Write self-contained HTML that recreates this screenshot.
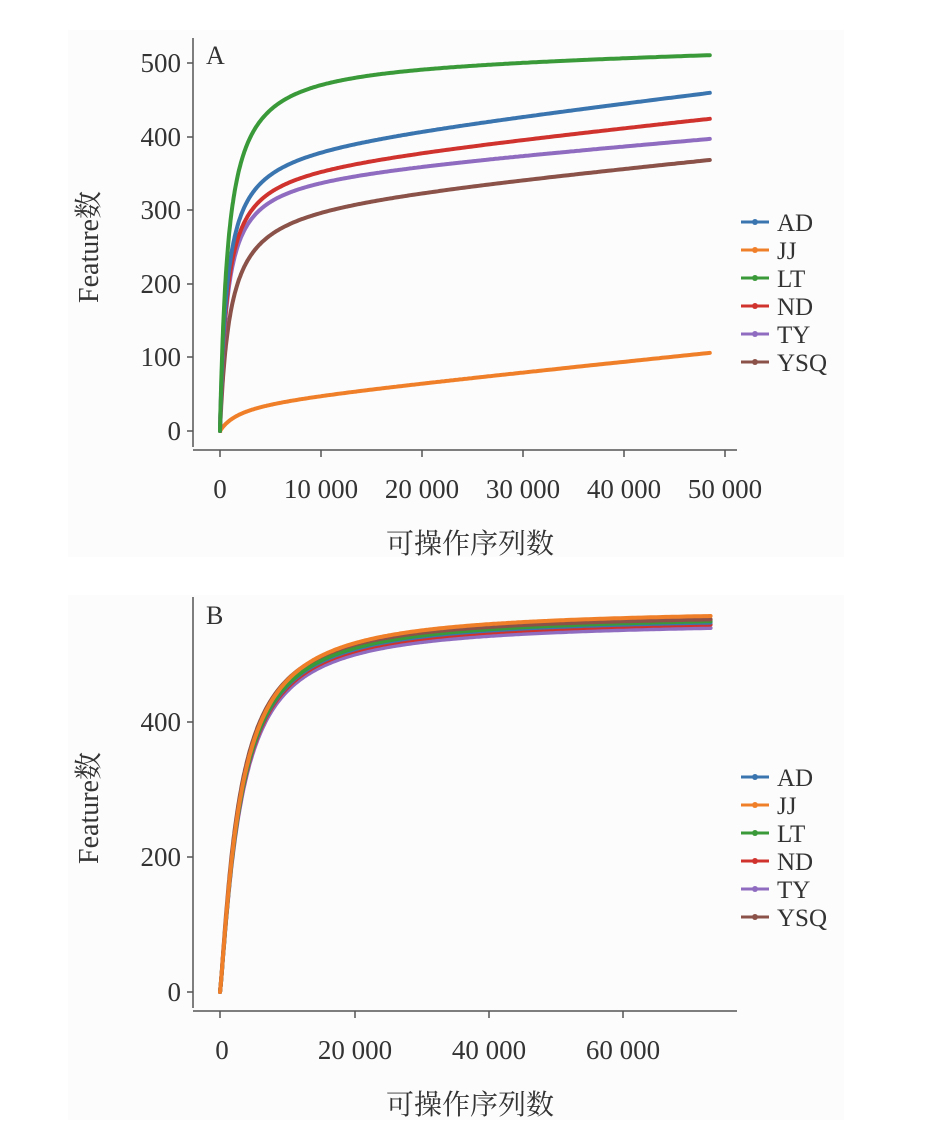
<!DOCTYPE html>
<html><head><meta charset="utf-8"><style>
body{margin:0;background:#fff;}
svg{display:block;font-family:"Liberation Serif","Noto Serif CJK SC",serif;}
</style></head><body>
<svg id="s" width="942" height="1133" viewBox="0 0 942 1133">
<rect x="68" y="30" width="776" height="527" fill="#fcfcfc"/>
<rect x="68" y="595" width="776" height="525" fill="#fcfcfc"/>
<g stroke="#555" stroke-width="1.5" fill="none">
<path d="M193 38V447M193 450H737"/>
<path d="M193 63h-6M193 137h-6M193 210h-6M193 284h-6M193 357h-6M193 431h-6"/>
<path d="M220 450v7M321 450v7M422 450v7M523 450v7M624 450v7M725 450v7"/>
<path d="M193 597V1008M193 1011H737"/>
<path d="M193 722h-6M193 857h-6M193 992h-6"/>
<path d="M220 1011v7M355 1011v7M489 1011v7M623 1011v7"/>
</g>
<g font-size="27" fill="#333" text-anchor="end">
<text x="181" y="72">500</text><text x="181" y="146">400</text><text x="181" y="219">300</text><text x="181" y="293">200</text><text x="181" y="366">100</text><text x="181" y="440">0</text>
<text x="181" y="731">400</text><text x="181" y="866">200</text><text x="181" y="1001">0</text>
</g>
<g font-size="27" fill="#333" text-anchor="middle">
<text x="220" y="498">0</text><text x="321" y="498">10 000</text><text x="422" y="498">20 000</text><text x="523" y="498">30 000</text><text x="624" y="498">40 000</text><text x="725" y="498">50 000</text>
<text x="470" y="553" font-size="28">可操作序列数</text>
<text x="222" y="1059">0</text><text x="355" y="1059">20 000</text><text x="489" y="1059">40 000</text><text x="623" y="1059">60 000</text>
<text x="470" y="1114" font-size="28">可操作序列数</text>
<text transform="translate(98,247) rotate(-90)" font-size="28">Feature数</text>
<text transform="translate(98,808) rotate(-90)" font-size="28">Feature数</text>
</g>
<text x="206" y="64" font-size="26" fill="#333">A</text>
<text x="206" y="624" font-size="26" fill="#333">B</text>
<g id="curves" fill="none" stroke-width="4" stroke-linecap="round"></g>
<g id="leg" font-size="25" fill="#333"></g>
</svg>
<script>
var C={AD:"#3a75b0",JJ:"#f07f2a",LT:"#3a9a3a",ND:"#d0332e",TY:"#8f6cc0",YSQ:"#8a5248"};
var A={JJ:[40,2,1.4],YSQ:[312,1.0,1.3],TY:[349,0.7,1.1],ND:[362,0.7,1.4],AD:[388,0.7,1.6],LT:[505,0.8,0.3]};
var B={TY:[551,3.0],ND:[556,2.98],AD:[559,2.97],LT:[561,2.97],YSQ:[563,2.8],JJ:[569,2.97]};
var g=document.getElementById("curves"),ns="http://www.w3.org/2000/svg";
function add(d,c){var p=document.createElementNS(ns,"path");p.setAttribute("d",d);p.setAttribute("stroke",c);g.appendChild(p);}
for(var k in A){var a=A[k],d="";for(var i=0;i<=300;i++){var x=48.5*Math.pow(i/300,2);var y=a[0]*x/(a[1]+x)+a[2]*x;d+=(i?"L":"M")+(220+x*10.1).toFixed(1)+" "+(431-y*0.735).toFixed(1);}add(d,C[k]);}
for(var k in B){var b=B[k],d="";for(var i=0;i<=300;i++){var x=73*Math.pow(i/300,2);var r=Math.pow(x/b[1],1.2);var y=b[0]*r/(1+r);d+=(i?"L":"M")+(220+x*6.72).toFixed(1)+" "+(992-y*0.675).toFixed(1);}add(d,C[k]);}
var L=document.getElementById("leg"),names=["AD","JJ","LT","ND","TY","YSQ"];
[222,777].forEach(function(y0){names.forEach(function(n,i){var y=y0+i*28;
var l=document.createElementNS(ns,"line");l.setAttribute("x1",741);l.setAttribute("x2",769);l.setAttribute("y1",y);l.setAttribute("y2",y);l.setAttribute("stroke",C[n]);l.setAttribute("stroke-width",3);L.appendChild(l);
var c=document.createElementNS(ns,"circle");c.setAttribute("cx",755);c.setAttribute("cy",y);c.setAttribute("r",3);c.setAttribute("fill",C[n]);L.appendChild(c);
var t=document.createElementNS(ns,"text");t.setAttribute("x",777);t.setAttribute("y",y+9);t.textContent=n;L.appendChild(t);});});
</script>
</body></html>
